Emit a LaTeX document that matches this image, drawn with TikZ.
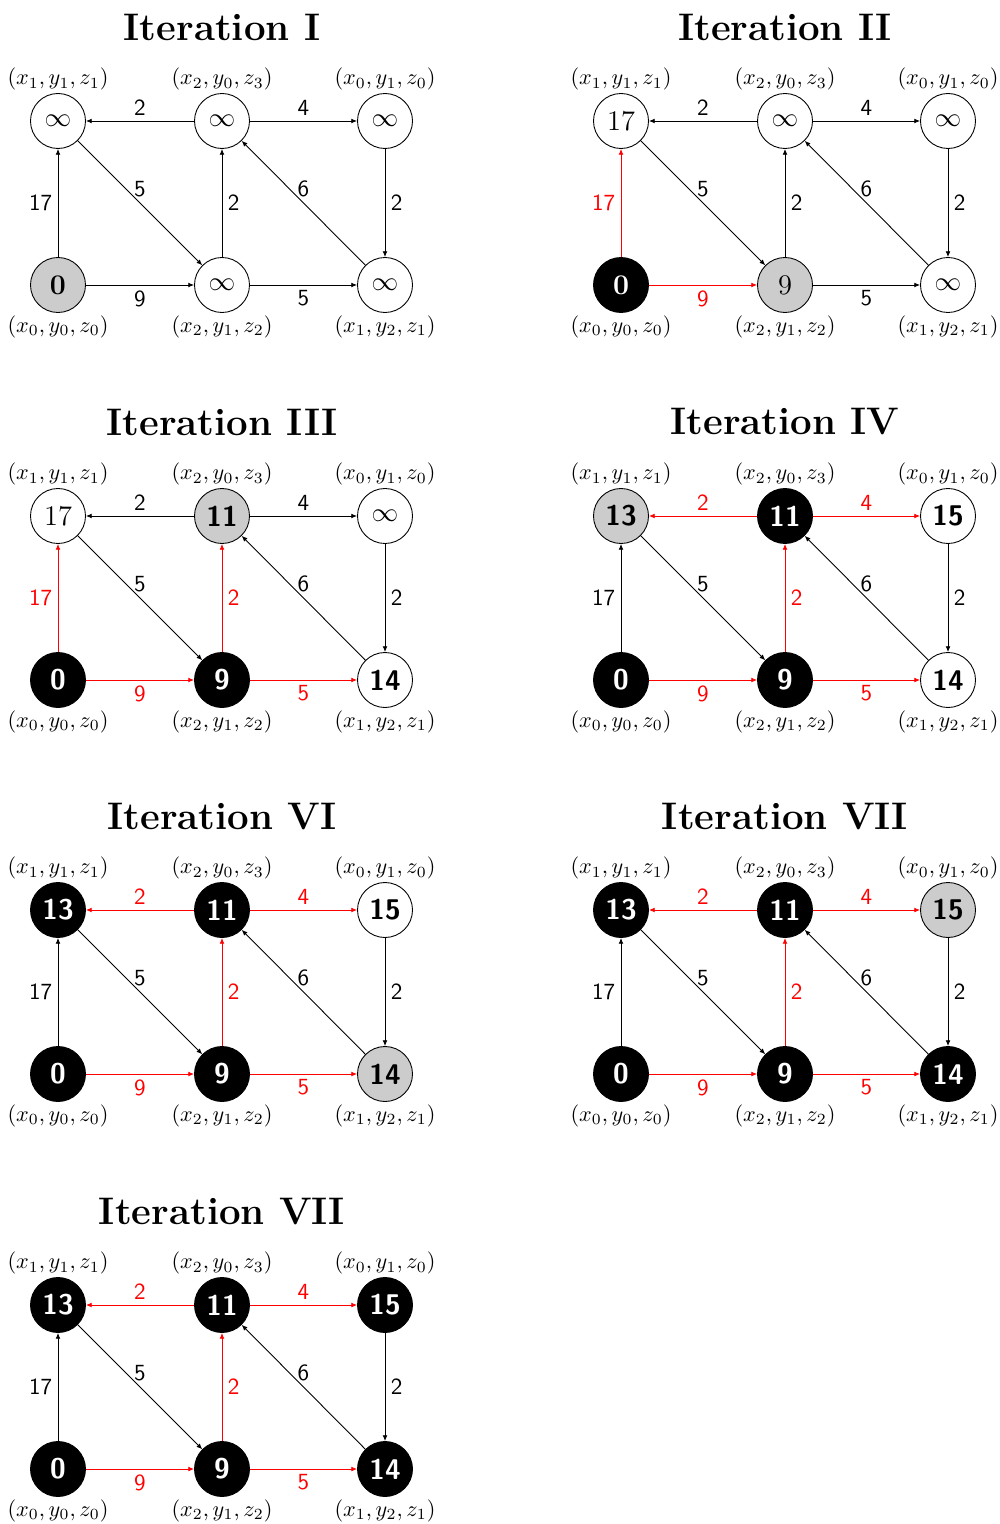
\documentclass[tikz,border=0pt]{standalone}
\usetikzlibrary{arrows.meta}

\tikzset{
  vtx/.style={circle, draw, thin, minimum size=24.75pt, inner sep=0pt,
    font=\fontsize{12.8pt}{15pt}\selectfont},
  unseen/.style={vtx, fill=white},
  frontier/.style={vtx, fill=black!20},
  settled/.style={vtx, fill=black, text=white},
  coord/.style={inner sep=1pt, font=\normalsize},
  at1/.style={label={[coord]above:$(x_1,y_1,z_1)$}},
  at2/.style={label={[coord]above:$(x_2,y_0,z_3)$}},
  at3/.style={label={[coord]above:$(x_0,y_1,z_0)$}},
  at4/.style={label={[coord]below:$(x_0,y_0,z_0)$}},
  at5/.style={label={[coord]below:$(x_2,y_1,z_2)$}},
  at6/.style={label={[coord]below:$(x_1,y_2,z_1)$}},
  wedge/.style={thin, -{Latex[length=2.6pt,width=2.2pt]},
    font=\sffamily\fontsize{10.4pt}{12pt}\selectfont,
    every node/.append style={inner sep=2.4pt}},
  plain/.style={wedge, black},
  tight/.style={wedge, red},
  heading/.style={font=\LARGE\bfseries, inner sep=0pt},
}

% the nine weighted arcs of the graph; each argument picks plain or tight
\newcommand\arcs[9]{%
  \draw[#1] (n2) -- node[above]{2} (n1);
  \draw[#2] (n2) -- node[above]{4} (n3);
  \draw[#3] (n1) -- node[above]{5} (n5);
  \draw[#4] (n5) -- node[right]{2} (n2);
  \draw[#5] (n6) -- node[above]{6} (n2);
  \draw[#6] (n3) -- node[right]{2} (n6);
  \draw[#7] (n4) -- node[left]{17} (n1);
  \draw[#8] (n4) -- node[below]{9} (n5);
  \draw[#9] (n5) -- node[below]{5} (n6);
}

\newcommand\bs[1]{\sffamily\bfseries #1}

\begin{document}
\begin{tikzpicture}[x=0.45pt, y=-0.45pt]
\useasboundingbox (0,0) rectangle (999,1524);

% Iteration I
\begin{scope}[shift={(0,121)}, name prefix=pa-]
  \node[heading] (t) at (222,-94) {Iteration I};
  \node[unseen, at1] (n1) at (58,0) {$\infty$};
  \node[unseen, at2] (n2) at (222,0) {$\infty$};
  \node[unseen, at3] (n3) at (385,0) {$\infty$};
  \node[frontier, at4] (n4) at (58,164) {\bfseries 0};
  \node[unseen, at5] (n5) at (222,164) {$\infty$};
  \node[unseen, at6] (n6) at (385,164) {$\infty$};
  \arcs{plain}{plain}{plain}{plain}{plain}{plain}{plain}{plain}{plain}
\end{scope}

% Iteration II
\begin{scope}[shift={(563,121)}, name prefix=pb-]
  \node[heading] (t) at (222,-94) {Iteration II};
  \node[unseen, at1] (n1) at (58,0) {17};
  \node[unseen, at2] (n2) at (222,0) {$\infty$};
  \node[unseen, at3] (n3) at (385,0) {$\infty$};
  \node[settled, at4] (n4) at (58,164) {\bfseries 0};
  \node[frontier, at5] (n5) at (222,164) {9};
  \node[unseen, at6] (n6) at (385,164) {$\infty$};
  \arcs{plain}{plain}{plain}{plain}{plain}{plain}{tight}{tight}{plain}
\end{scope}

% Iteration III
\begin{scope}[shift={(0,516)}, name prefix=pc-]
  \node[heading] (t) at (222,-94) {Iteration III};
  \node[unseen, at1] (n1) at (58,0) {17};
  \node[frontier, at2] (n2) at (222,0) {\bs{11}};
  \node[unseen, at3] (n3) at (385,0) {$\infty$};
  \node[settled, at4] (n4) at (58,164) {\bs{0}};
  \node[settled, at5] (n5) at (222,164) {\bs{9}};
  \node[unseen, at6] (n6) at (385,164) {\bs{14}};
  \arcs{plain}{plain}{plain}{tight}{plain}{plain}{tight}{tight}{tight}
\end{scope}

% Iteration IV
\begin{scope}[shift={(563,516)}, name prefix=pd-]
  \node[heading] (t) at (222,-94) {Iteration IV};
  \node[frontier, at1] (n1) at (58,0) {\bs{13}};
  \node[settled, at2] (n2) at (222,0) {\bs{11}};
  \node[unseen, at3] (n3) at (385,0) {\bs{15}};
  \node[settled, at4] (n4) at (58,164) {\bs{0}};
  \node[settled, at5] (n5) at (222,164) {\bs{9}};
  \node[unseen, at6] (n6) at (385,164) {\bs{14}};
  \arcs{tight}{tight}{plain}{tight}{plain}{plain}{plain}{tight}{tight}
\end{scope}

% Iteration VI
\begin{scope}[shift={(0,910)}, name prefix=pe-]
  \node[heading] (t) at (222,-94) {Iteration VI};
  \node[settled, at1] (n1) at (58,0) {\bs{13}};
  \node[settled, at2] (n2) at (222,0) {\bs{11}};
  \node[unseen, at3] (n3) at (385,0) {\bs{15}};
  \node[settled, at4] (n4) at (58,164) {\bs{0}};
  \node[settled, at5] (n5) at (222,164) {\bs{9}};
  \node[frontier, at6] (n6) at (385,164) {\bs{14}};
  \arcs{tight}{tight}{plain}{tight}{plain}{plain}{plain}{tight}{tight}
\end{scope}

% Iteration VII
\begin{scope}[shift={(563,910)}, name prefix=pf-]
  \node[heading] (t) at (222,-94) {Iteration VII};
  \node[settled, at1] (n1) at (58,0) {\bs{13}};
  \node[settled, at2] (n2) at (222,0) {\bs{11}};
  \node[frontier, at3] (n3) at (385,0) {\bs{15}};
  \node[settled, at4] (n4) at (58,164) {\bs{0}};
  \node[settled, at5] (n5) at (222,164) {\bs{9}};
  \node[settled, at6] (n6) at (385,164) {\bs{14}};
  \arcs{tight}{tight}{plain}{tight}{plain}{plain}{plain}{tight}{tight}
\end{scope}

% final state
\begin{scope}[shift={(0,1305)}, name prefix=pg-]
  \node[heading] (t) at (222,-94) {Iteration VII};
  \node[settled, at1] (n1) at (58,0) {\bs{13}};
  \node[settled, at2] (n2) at (222,0) {\bs{11}};
  \node[settled, at3] (n3) at (385,0) {\bs{15}};
  \node[settled, at4] (n4) at (58,164) {\bs{0}};
  \node[settled, at5] (n5) at (222,164) {\bs{9}};
  \node[settled, at6] (n6) at (385,164) {\bs{14}};
  \arcs{tight}{tight}{plain}{tight}{plain}{plain}{plain}{tight}{tight}
\end{scope}
\end{tikzpicture}
\end{document}
